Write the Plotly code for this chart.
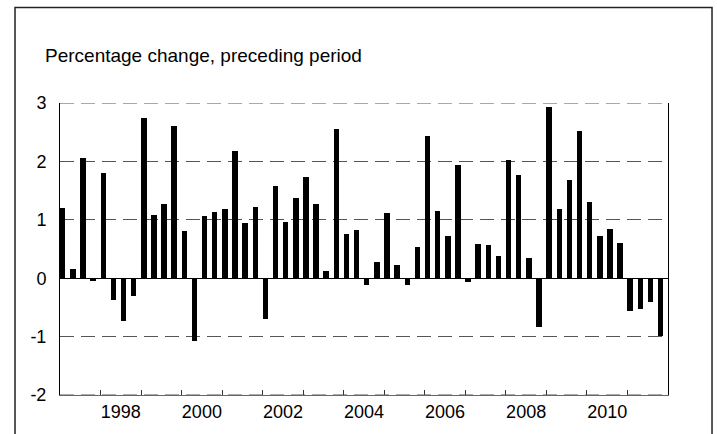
import plotly.graph_objects as go

years = list(range(1997, 2012))
quarters = [1, 2, 3, 4]
values = [
    1.21, 0.16, 2.05, -0.05,   # 1997
    1.81, -0.37, -0.74, -0.30, # 1998
    2.75, 1.09, 1.27, 2.60,    # 1999
    0.80, -1.07, 1.07, 1.13,   # 2000
    1.19, 2.17, 0.95, 1.22,    # 2001
    -0.69, 1.58, 0.97, 1.38,   # 2002
    1.73, 1.27, 0.12, 2.55,    # 2003
    0.75, 0.83, -0.11, 0.28,   # 2004
    1.11, 0.23, -0.11, 0.53,   # 2005
    2.44, 1.15, 0.72, 1.94,    # 2006
    -0.06, 0.58, 0.57, 0.38,   # 2007
    2.02, 1.77, 0.34, -0.83,   # 2008
    2.94, 1.18, 1.69, 2.52,    # 2009
    1.30, 0.73, 0.84, 0.61,    # 2010
    -0.56, -0.53, -0.40, -0.99 # 2011
]
label_years = [1998, 2000, 2002, 2004, 2006, 2008, 2010]
y_ticks = [-2, -1, 0, 1, 2, 3]
y_ticktext = ["-2", "-1", "0", "1", "2", "3"]
title_text = "Percentage change, preceding period"

x = [y + (q - 1) / 4 for y in years for q in quarters]

FONT = "Liberation Sans, Arial, sans-serif"
GRID = "#555555"
DASH = "14px,7px"

fig = go.Figure()
fig.add_trace(go.Bar(
    x=x, y=values, width=0.135, offset=0,
    marker=dict(color="black", line=dict(width=0)),
    showlegend=False,
))

fig.update_layout(
    width=717, height=434,
    margin=dict(l=60, r=49, t=103, b=33),
    paper_bgcolor="white", plot_bgcolor="white",
    font=dict(family=FONT, size=18, color="black"),
    xaxis=dict(
        range=[1997, 2012],
        tickvals=[y + 0.5 for y in label_years],
        ticktext=[str(y) for y in label_years],
        ticks="", showgrid=False, zeroline=False,
        showline=True, linecolor="#666666", linewidth=1,
        minor=dict(tickvals=list(range(1998, 2012)), ticks="inside",
                   ticklen=5, tickcolor="#333333", tickwidth=1, showgrid=False),
        tickfont=dict(size=18, family=FONT),
        ticklabelstandoff=0,
        fixedrange=True,
    ),
    yaxis=dict(
        range=[-2, 3], tickvals=y_ticks, ticktext=y_ticktext, ticks="",
        showgrid=True, gridcolor=GRID, gridwidth=1, griddash=DASH,
        zeroline=True, zerolinecolor="black", zerolinewidth=1,
        showline=True, linecolor="black", linewidth=1, mirror=True,
        tickfont=dict(size=18, family=FONT),
        ticklabelstandoff=9,
        fixedrange=True,
    ),
    bargap=0,
)

# dashed gridlines at the edges of the range (plotly omits edge gridlines)
fig.add_shape(type="line", xref="paper", yref="y", x0=0, x1=1, y0=3, y1=3,
              line=dict(color=GRID, width=1, dash=DASH), layer="above")
fig.add_shape(type="line", xref="paper", yref="y", x0=0, x1=1, y0=-2, y1=-2,
              line=dict(color=GRID, width=1, dash=DASH), layer="above")

fig.add_shape(type="rect", xref="paper", yref="paper",
              x0=-0.074, x1=1.0724, y0=-0.2, y1=1.327,
              line=dict(color="#222222", width=1.5), fillcolor="rgba(0,0,0,0)")

fig.add_annotation(text=title_text, xref="paper", yref="paper",
                   x=-0.0285, y=1.162, xanchor="left", yanchor="middle",
                   showarrow=False, font=dict(size=19, family=FONT, color="black"))

fig.write_html("out.html", config={"displayModeBar": False},
               post_script="document.body.style.margin='0';")
